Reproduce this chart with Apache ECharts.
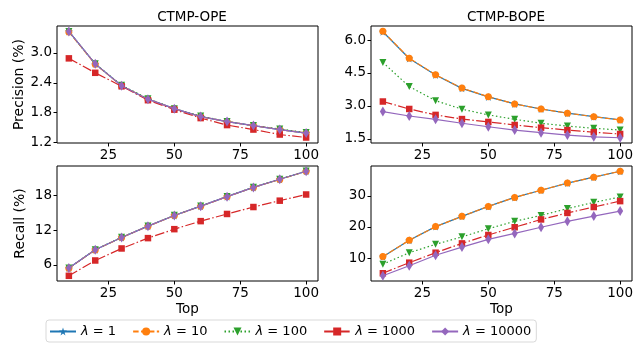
<!DOCTYPE html>
<html><head><meta charset="utf-8">
<script src="https://cdn.jsdelivr.net/npm/echarts@6/dist/echarts.min.js"></script>
<style>html,body{margin:0;padding:0;background:#fff}#c{width:644px;height:343px}</style>
</head><body><div id="c"></div>
<script>
const tops = [10,20,30,40,50,60,70,80,90,100];
const lambdas = ['1','10','100','1000','10000'];
// CTMP-OPE precision
const opePrec1     = [3.43,2.78,2.34,2.07,1.88,1.72,1.62,1.54,1.46,1.39];
const opePrec10    = [3.42,2.77,2.34,2.07,1.88,1.72,1.62,1.54,1.46,1.39];
const opePrec100   = [3.43,2.78,2.35,2.08,1.88,1.73,1.62,1.54,1.47,1.40];
const opePrec1000  = [2.89,2.60,2.33,2.05,1.86,1.69,1.55,1.46,1.36,1.30];
const opePrec10000 = [3.43,2.78,2.34,2.07,1.88,1.72,1.62,1.54,1.46,1.39];
// CTMP-BOPE precision
const bopePrec1     = [6.38,5.16,4.41,3.80,3.41,3.09,2.86,2.67,2.51,2.36];
const bopePrec10    = [6.40,5.17,4.42,3.81,3.42,3.09,2.86,2.67,2.51,2.36];
const bopePrec100   = [4.98,3.88,3.24,2.85,2.59,2.39,2.21,2.08,1.98,1.90];
const bopePrec1000  = [3.20,2.86,2.59,2.40,2.27,2.13,2.01,1.90,1.80,1.72];
const bopePrec10000 = [2.74,2.54,2.39,2.21,2.05,1.90,1.78,1.67,1.59,1.55];
// CTMP-OPE recall
const opeRec1     = [5.43,8.60,10.74,12.69,14.54,16.15,17.80,19.40,20.80,22.20];
const opeRec10    = [5.40,8.58,10.72,12.67,14.52,16.13,17.78,19.38,20.78,22.18];
const opeRec100   = [5.45,8.62,10.76,12.71,14.56,16.17,17.82,19.42,20.82,22.22];
const opeRec1000  = [4.10,6.75,8.83,10.62,12.17,13.56,14.80,16.00,17.10,18.17];
const opeRec10000 = [5.43,8.60,10.74,12.69,14.54,16.15,17.80,19.40,20.80,22.20];
// CTMP-BOPE recall
const bopeRec1     = [10.4,15.7,20.1,23.4,26.6,29.5,31.8,34.1,36.0,37.9];
const bopeRec10    = [10.45,15.7,20.1,23.4,26.6,29.5,31.8,34.1,36.0,37.9];
const bopeRec100   = [8.0,11.7,14.4,16.8,19.4,21.8,23.7,25.9,27.9,29.6];
const bopeRec1000  = [5.1,8.5,11.7,14.7,17.4,19.9,22.4,24.5,26.4,28.3];
const bopeRec10000 = [4.3,7.5,10.9,13.5,16.0,17.9,19.9,21.8,23.5,25.1];

const panels = [
  {title:'CTMP-OPE', yname:'Precision (%)', xname:'', vals:[opePrec1,opePrec10,opePrec100,opePrec1000,opePrec10000], ymin:1.19, ymax:3.54, yticks:[1.2,1.8,2.4,3.0], dec:1},
  {title:'CTMP-BOPE', yname:'', xname:'', vals:[bopePrec1,bopePrec10,bopePrec100,bopePrec1000,bopePrec10000], ymin:1.31, ymax:6.64, yticks:[1.5,3.0,4.5,6.0], dec:1},
  {title:'', yname:'Recall (%)', xname:'Top', vals:[opeRec1,opeRec10,opeRec100,opeRec1000,opeRec10000], ymin:3.2, ymax:23.1, yticks:[6,12,18], dec:0},
  {title:'', yname:'', xname:'Top', vals:[bopeRec1,bopeRec10,bopeRec100,bopeRec1000,bopeRec10000], ymin:2.6, ymax:39.6, yticks:[10,20,30], dec:0}
];
const xticks = [25,50,75,100];
const grids = [
  {left:57, top:26, width:261, height:117},
  {left:371, top:26, width:261, height:117},
  {left:57, top:166, width:261, height:115},
  {left:371, top:166, width:261, height:115}
];
const FONT = 'DejaVu Sans';
const colors = ['#1f77b4','#ff7f0e','#2ca02c','#d62728','#9467bd'];
const star = 'path://M100,0L122.3,69.3L195.1,69.1L136.1,111.7L158.8,180.9L100,138L41.2,180.9L63.9,111.7L4.9,69.1L77.7,69.3Z';
const styles = [
  {symbol:star, size:8, rot:0, type:'solid'},
  {symbol:'circle', size:7, rot:0, type:[5.5,2.4]},
  {symbol:'triangle', size:7, rot:180, type:[1.5,2.5]},
  {symbol:'rect', size:6.5, rot:0, type:[9.6,2.4,1.5,2.4]},
  {symbol:'diamond', size:[6,10], rot:0, type:'solid'}
];

const option = {
  animation:false,
  backgroundColor:'#fff',
  textStyle:{fontFamily:FONT},
  title: [
    {text:'CTMP-OPE', left:187, top:5, textAlign:'center', textStyle:{fontFamily:FONT, fontWeight:'normal', fontSize:13.5, color:'#000'}},
    {text:'CTMP-BOPE', left:501, top:5, textAlign:'center', textStyle:{fontFamily:FONT, fontWeight:'normal', fontSize:13.5, color:'#000'}}
  ],
  grid: grids.map(g => Object.assign({show:true, borderColor:'#000', borderWidth:1, backgroundColor:'transparent', containLabel:false}, g)),
  xAxis: panels.map((p,i) => ({
    type:'value', gridIndex:i, min:5.5, max:104.5,
    name:p.xname, nameLocation:'middle', nameGap:21,
    nameTextStyle:{fontFamily:FONT, fontSize:13.5, color:'#000'},
    axisLine:{show:false},
    splitLine:{show:false},
    axisTick:{show:true, inside:false, length:3.5, lineStyle:{color:'#000'}, customValues:xticks},
    axisLabel:{color:'#000', fontFamily:FONT, fontSize:13.5, margin:5, customValues:xticks}
  })),
  yAxis: panels.map((p,i) => ({
    type:'value', gridIndex:i, min:p.ymin, max:p.ymax,
    name:p.yname, nameLocation:'middle', nameGap:30, nameRotate:90,
    nameTextStyle:{fontFamily:FONT, fontSize:14, color:'#000'},
    axisLine:{show:false},
    splitLine:{show:false},
    axisTick:{show:true, inside:false, length:3.5, lineStyle:{color:'#000'}, customValues:p.yticks},
    axisLabel:{color:'#000', fontFamily:FONT, fontSize:13.5, margin:5, customValues:p.yticks,
      formatter: v => v.toFixed(p.dec)}
  })),
  legend: {
    left:46, top:320,
    orient:'horizontal',
    itemWidth:26, itemHeight:10, itemGap:16,
    padding:[5,5,4,3],
    borderColor:'#d9d9d9', borderWidth:1, borderRadius:3,
    data: lambdas.map(l => 'λ = ' + l),
    formatter: n => '{i|λ}{n| = ' + n.split(' = ')[1] + '}',
    textStyle:{fontFamily:FONT, fontSize:13, color:'#000',
      rich:{i:{fontStyle:'italic', fontFamily:FONT, fontSize:13}, n:{fontFamily:FONT, fontSize:13}}}
  },
  series: []
};

panels.forEach((p,pi) => {
  p.vals.forEach((arr,si) => {
    const s = styles[si];
    option.series.push({
      type:'line', name:'λ = ' + lambdas[si],
      xAxisIndex:pi, yAxisIndex:pi,
      data: tops.map((t,k) => [t, arr[k]]),
      symbol:s.symbol, symbolSize:s.size, symbolRotate:s.rot, showSymbol:true,
      color:colors[si],
      itemStyle:{color:colors[si], borderWidth:0},
      lineStyle:{color:colors[si], width:1.2, type:s.type},
      z: 2 + si
    });
  });
});

const chart = echarts.init(document.getElementById('c'), null, {renderer:'canvas'});
chart.setOption(option);
</script>
</body></html>
